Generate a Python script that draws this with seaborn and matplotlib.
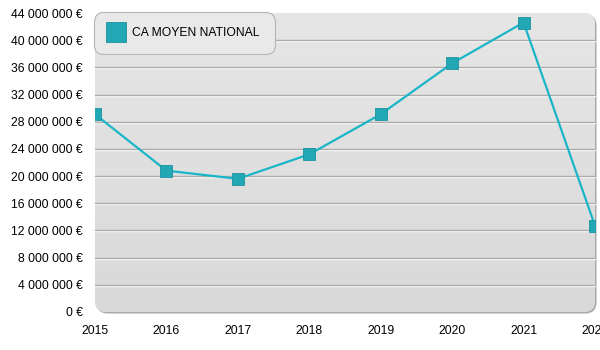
import numpy as np
import matplotlib
matplotlib.use("Agg")
import matplotlib.pyplot as plt
import seaborn as sns
from matplotlib.patches import FancyBboxPatch
from matplotlib.lines import Line2D
from matplotlib.transforms import IdentityTransform, offset_copy

# Chiffre d'affaires moyen national par année
years = [2015, 2016, 2017, 2018, 2019, 2020, 2021, 2022]
ca_moyen = [29_100_000, 20_800_000, 19_600_000, 23_200_000,
            29_100_000, 36_600_000, 42_600_000, 12_700_000]
series_label = "CA MOYEN NATIONAL"
y_ticks = list(range(0, 44_000_001, 4_000_000))

LINE = "#1ab6c7"
MARK = "#22a7b4"
MARK_EDGE = "#1b939f"

sns.set_theme(style="white")
plt.rcParams["font.family"] = ["Liberation Sans", "DejaVu Sans"]

W, H, DPI = 600, 350, 100
fig = plt.figure(figsize=(W / DPI, H / DPI), dpi=DPI)
fig.patch.set_facecolor("white")

# plot area in pixels
x0, x1, ytop, ybot = 95, 595, 13, 312
ax = fig.add_axes([x0 / W, 1 - ybot / H, (x1 - x0) / W, (ybot - ytop) / H])
ax.set_facecolor("none")
for s in ax.spines.values():
    s.set_visible(False)

# rounded panel with a soft shadow on the right/bottom
px0, py0 = x0, H - ybot
pw, ph = x1 - x0, ybot - ytop
shadow = FancyBboxPatch((px0 + 1.5, py0 - 1.5), pw, ph,
                        boxstyle="round,pad=0,rounding_size=11",
                        transform=IdentityTransform(), facecolor="#a9a9a9",
                        edgecolor="none", zorder=-3)
fig.patches.append(shadow)
panel = FancyBboxPatch((px0, py0), pw, ph,
                       boxstyle="round,pad=0,rounding_size=11",
                       transform=IdentityTransform(), facecolor="#e2e2e2",
                       edgecolor="none", zorder=-2)
fig.patches.append(panel)

# vertical gradient inside the panel
grad = np.linspace(0, 1, 256).reshape(-1, 1)
cmap = matplotlib.colors.LinearSegmentedColormap.from_list(
    "panel", ["#e6e6e6", "#d9d9d9"])
img = ax.imshow(grad, cmap=cmap, extent=(0, 1, 0, 1), aspect="auto",
                transform=ax.transAxes, origin="upper", zorder=-1,
                interpolation="bilinear")
img.set_clip_path(panel)

ax.set_xlim(years[0], years[-1])
ax.set_ylim(y_ticks[0], y_ticks[-1])

# grid lines with a white highlight just below each one
white_tr = offset_copy(ax.transData, fig=fig, x=0, y=-1, units="dots")
for t in y_ticks[1:-1]:
    ax.plot([years[0], years[-1]], [t, t], color="white", lw=1.0,
            transform=white_tr, zorder=0, clip_on=False)
    ax.plot([years[0], years[-1]], [t, t], color="#ababab", lw=1.0,
            zorder=0.5, clip_on=False)

sns.lineplot(x=years, y=ca_moyen, ax=ax, color=LINE, linewidth=1.6,
             marker="s", markersize=9, markerfacecolor=MARK,
             markeredgecolor=MARK_EDGE, markeredgewidth=0.6, zorder=3,
             legend=False)

ax.set_xticks(years)
ax.set_xticklabels([str(y) for y in years])
ax.set_yticks(y_ticks)
ax.set_yticklabels([f"{v:,}".replace(",", " ") + " €" for v in y_ticks])
ax.tick_params(axis="both", length=0, labelsize=8.7, colors="black")
ax.tick_params(axis="y", pad=9)
ax.tick_params(axis="x", pad=9)
ax.set_xlabel("")
ax.set_ylabel("")
ax.grid(False)

handle = Line2D([], [], linestyle="none", marker="s", markersize=14,
                markerfacecolor=MARK, markeredgecolor=MARK_EDGE,
                markeredgewidth=0.6)
leg = ax.legend([handle], [series_label], loc="upper left",
                bbox_to_anchor=(-0.003, 1.003), borderaxespad=0,
                fancybox=True, frameon=True, fontsize=8.7,
                handlelength=1.2, handletextpad=0.75, borderpad=1.25,
                labelcolor="black")
frame = leg.get_frame()
frame.set_boxstyle("round", pad=0, rounding_size=0.8)
frame.set_facecolor("#e9e9e9")
frame.set_edgecolor("#b5b5b5")
frame.set_alpha(1)
frame.set_linewidth(0.8)
leg.set_zorder(5)

fig.savefig("out.png", dpi=DPI, facecolor="white")
